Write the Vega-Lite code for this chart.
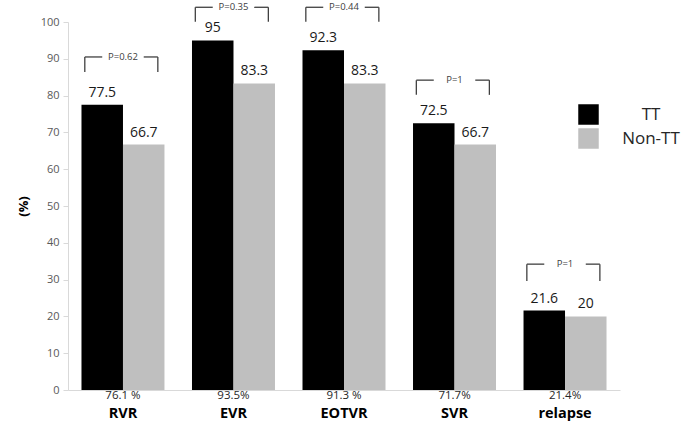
{
  "$schema": "https://vega.github.io/schema/vega-lite/v6.json",
  "autosize": "none",
  "width": 552,
  "height": 368,
  "padding": {"left": 68, "top": 22, "right": 69, "bottom": 31},
  "background": "white",
  "config": {
    "view": {"stroke": null},
    "font": "Open Sans"
  },
  "datasets": {
    "bars": [
      {"cat": "RVR", "group": "TT", "value": 77.5},
      {"cat": "RVR", "group": "Non-TT", "value": 66.7},
      {"cat": "EVR", "group": "TT", "value": 95},
      {"cat": "EVR", "group": "Non-TT", "value": 83.3},
      {"cat": "EOTVR", "group": "TT", "value": 92.3},
      {"cat": "EOTVR", "group": "Non-TT", "value": 83.3},
      {"cat": "SVR", "group": "TT", "value": 72.5},
      {"cat": "SVR", "group": "Non-TT", "value": 66.7},
      {"cat": "relapse", "group": "TT", "value": 21.6},
      {"cat": "relapse", "group": "Non-TT", "value": 20}
    ],
    "cats": [
      {"cat": "RVR", "overall": "76.1 %", "p": "P=0.62", "top": 90.5, "bottom": 86.4},
      {"cat": "EVR", "overall": "93.5%", "p": "P=0.35", "top": 104, "bottom": 100.1},
      {"cat": "EOTVR", "overall": "91.3 %", "p": "P=0.44", "top": 104, "bottom": 100.1},
      {"cat": "SVR", "overall": "71.7%", "p": "P=1", "top": 84.2, "bottom": 80.2},
      {"cat": "relapse", "overall": "21.4%", "p": "P=1", "top": 34.2, "bottom": 29.6}
    ]
  },
  "encoding": {
    "x": {
      "field": "cat",
      "type": "nominal",
      "sort": ["RVR", "EVR", "EOTVR", "SVR", "relapse"],
      "scale": {"paddingInner": 0.249, "paddingOuter": 0.122},
      "axis": {
        "title": null,
        "labelAngle": 0,
        "ticks": false,
        "domainColor": "#d9d9d9",
        "labelFontWeight": "bold",
        "labelFontSize": 14.5,
        "labelColor": "#000000",
        "labelPadding": 16
      }
    }
  },
  "layer": [
    {
      "data": {"name": "bars"},
      "mark": {"type": "bar"},
      "encoding": {
        "xOffset": {"field": "group", "type": "nominal", "sort": ["TT", "Non-TT"], "scale": {"paddingInner": 0, "paddingOuter": 0}},
        "y": {
          "field": "value",
          "type": "quantitative",
          "scale": {"domain": [0, 100], "nice": false},
          "axis": {
            "values": [0, 10, 20, 30, 40, 50, 60, 70, 80, 90, 100],
            "tickCount": 11,
            "labelOverlap": false,
            "grid": false,
            "domainColor": "#d9d9d9",
            "tickColor": "#d9d9d9",
            "tickSize": 5,
            "labelColor": "#595959",
            "labelFontSize": 11,
            "labelPadding": 4,
            "title": "(%)",
            "titleFontWeight": "bold",
            "titleFontSize": 13,
            "titleColor": "#000000",
            "titlePadding": 10
          }
        },
        "color": {
          "field": "group",
          "type": "nominal",
          "scale": {"domain": ["TT", "Non-TT"], "range": ["#000000", "#BFBFBF"]},
          "legend": {
            "title": null,
            "orient": "none",
            "legendX": 510,
            "legendY": 82,
            "padding": 0,
            "symbolType": "square",
            "symbolSize": 420,
            "symbolStrokeWidth": 0,
            "labelFontSize": 17,
            "labelColor": "#262626",
            "labelAlign": "center",
            "labelOffset": 52,
            "rowPadding": 3
          }
        }
      }
    },
    {
      "data": {"name": "bars"},
      "mark": {"type": "text", "baseline": "alphabetic", "dy": -8, "fontSize": 14, "color": "#1a1a1a"},
      "encoding": {
        "xOffset": {"field": "group", "type": "nominal", "sort": ["TT", "Non-TT"]},
        "y": {"field": "value", "type": "quantitative"},
        "text": {"field": "value", "type": "quantitative"}
      }
    },
    {
      "data": {"name": "cats"},
      "mark": {"type": "text", "baseline": "top", "dy": 0, "fontSize": 11.5, "color": "#262626"},
      "encoding": {
        "y": {"datum": 0, "type": "quantitative"},
        "text": {"field": "overall"}
      }
    },
    {
      "data": {"name": "cats"},
      "mark": {"type": "rule", "color": "#404040", "strokeWidth": 1.3},
      "encoding": {
        "x": {"field": "cat", "type": "nominal", "sort": ["RVR", "EVR", "EOTVR", "SVR", "relapse"], "bandPosition": 0.04},
        "y": {"field": "top", "type": "quantitative"},
        "y2": {"field": "bottom"}
      }
    },
    {
      "data": {"name": "cats"},
      "mark": {"type": "rule", "color": "#404040", "strokeWidth": 1.3},
      "encoding": {
        "x": {"field": "cat", "type": "nominal", "sort": ["RVR", "EVR", "EOTVR", "SVR", "relapse"], "bandPosition": 0.92},
        "y": {"field": "top", "type": "quantitative"},
        "y2": {"field": "bottom"}
      }
    },
    {
      "data": {"name": "cats"},
      "mark": {"type": "rule", "color": "#404040", "strokeWidth": 1.3},
      "encoding": {
        "x": {"field": "cat", "type": "nominal", "sort": ["RVR", "EVR", "EOTVR", "SVR", "relapse"], "bandPosition": 0.04},
        "x2": {"field": "cat", "bandPosition": 0.25},
        "y": {"field": "top", "type": "quantitative"}
      }
    },
    {
      "data": {"name": "cats"},
      "mark": {"type": "rule", "color": "#404040", "strokeWidth": 1.3},
      "encoding": {
        "x": {"field": "cat", "type": "nominal", "sort": ["RVR", "EVR", "EOTVR", "SVR", "relapse"], "bandPosition": 0.75},
        "x2": {"field": "cat", "bandPosition": 0.92},
        "y": {"field": "top", "type": "quantitative"}
      }
    },
    {
      "data": {"name": "cats"},
      "mark": {"type": "text", "baseline": "middle", "fontSize": 9.5, "color": "#404040"},
      "encoding": {
        "y": {"field": "top", "type": "quantitative"},
        "text": {"field": "p"}
      }
    }
  ]
}
